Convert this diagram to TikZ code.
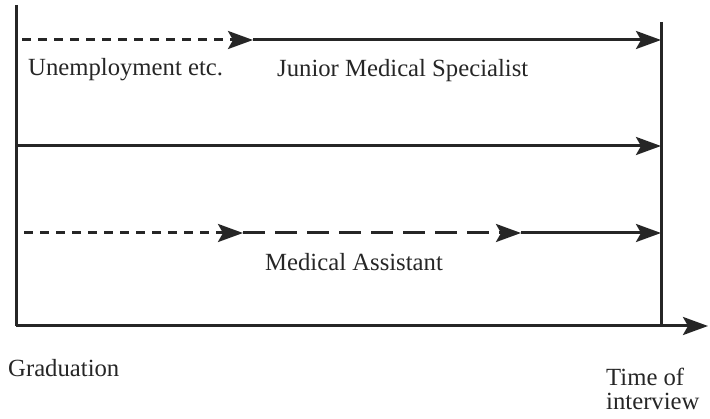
\documentclass[tikz,border=0pt]{standalone}
\usepackage{fontspec}
\setmainfont{Liberation Serif}
\usetikzlibrary{arrows.meta}
\begin{document}
\begin{tikzpicture}[x=1pt,y=-1pt,
  ln/.style={line width=3pt,black!85},
  tip/.style={-{Stealth[length=25pt,width=18pt,inset=5pt]}},
  shortdash/.style={dash pattern=on 9pt off 7pt},
  longdash/.style={dash pattern=on 22pt off 10pt},
  lbl/.style={font=\rmfamily\fontsize{24.7}{27}\selectfont,inner sep=0pt,text=black!85}]
\useasboundingbox (0,0) rectangle (710,419);
% frame
\coordinate (tl) at (16,5);
\coordinate (bl) at (16,326);
\coordinate (br) at (708,326);
\coordinate (rt) at (661,22);
\coordinate (rb) at (661,326);
\draw[ln] (tl) -- (bl);
\draw[ln,tip] (bl) -- (br);
\draw[ln] (rt) -- (rb);
% row 1
\coordinate (a1) at (22,40);
\coordinate (a2) at (253,40);
\coordinate (a3) at (661,40);
\draw[ln,shortdash,tip] (a1) -- (a2);
\draw[ln,tip] (a2) -- (a3);
% row 2
\coordinate (b1) at (16,146);
\coordinate (b2) at (661,146);
\draw[ln,tip] (b1) -- (b2);
% row 3
\coordinate (c1) at (24,233);
\coordinate (c2) at (243,233);
\coordinate (c3) at (521,233);
\coordinate (c4) at (661,233);
\draw[ln,shortdash,tip] (c1) -- (c2);
\draw[ln,longdash,tip] (c2) -- (c3);
\draw[ln,tip] (c3) -- (c4);
% labels
\node[lbl,anchor=west] (unemp) at (28,70) {Unemployment etc.};
\node[lbl,anchor=west] (jms) at (277,71) {Junior Medical Specialist};
\node[lbl,anchor=west] (ma) at (265,262) {Medical Assistant};
\node[lbl,anchor=west] (grad) at (8,368) {Graduation};
\node[lbl,anchor=north west,align=left] (toi) at (606,368) {Time of\\[-3pt]interview};
\end{tikzpicture}
\end{document}
